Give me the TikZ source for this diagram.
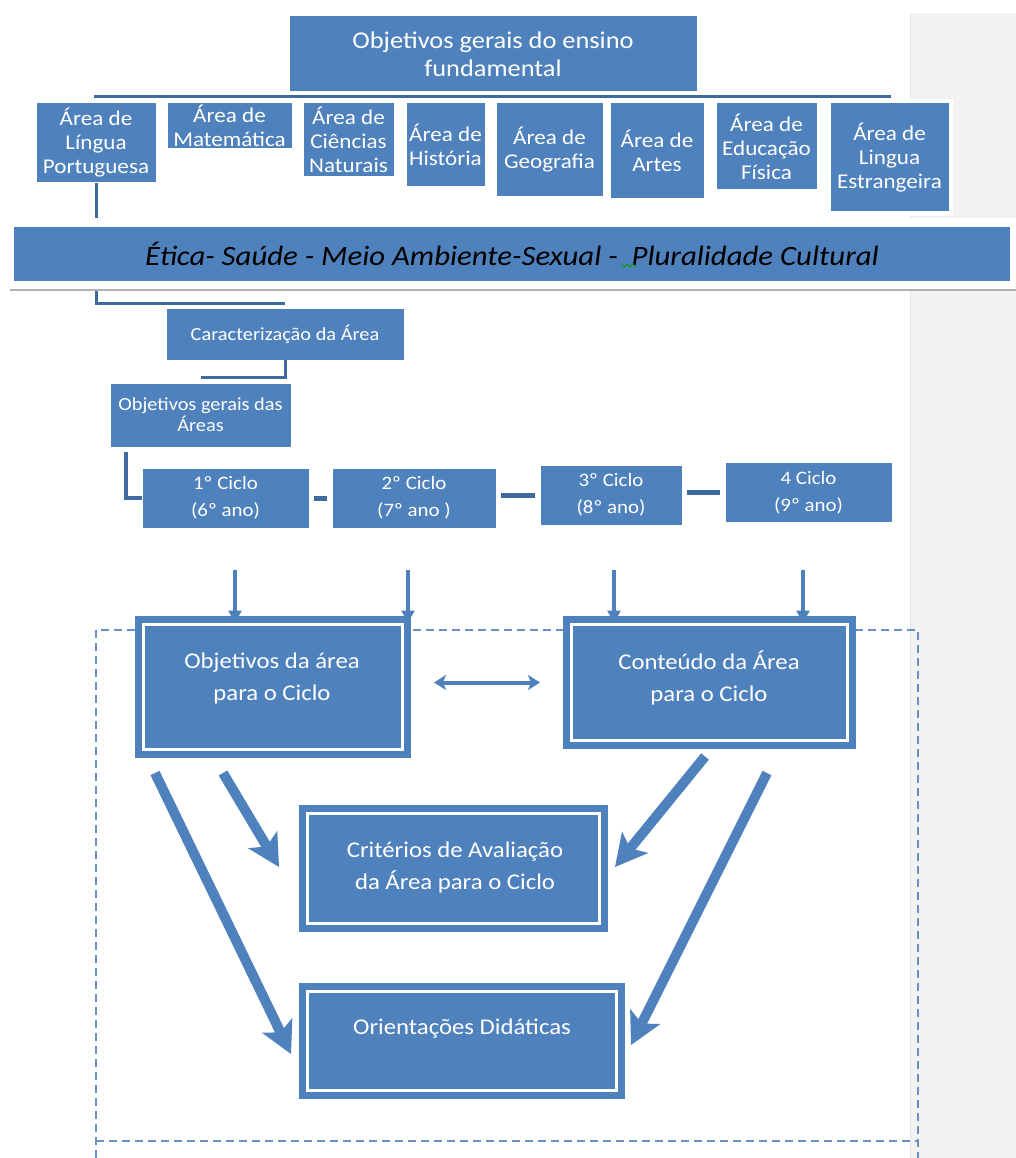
\documentclass[tikz,border=0pt]{standalone}
\usepackage{fontspec}
\setmainfont{Carlito}[FakeStretch=1.1]
\usetikzlibrary{arrows.meta,positioning,calc,backgrounds}
\definecolor{cBlue}{HTML}{4F81BD}
\definecolor{cLine}{HTML}{3F6AA0}
\definecolor{cDash}{HTML}{6A90C8}
\definecolor{cPage}{HTML}{F2F2F2}
\newcommand{\fs}[2]{\fontsize{#1}{#2}\selectfont}
\tikzset{
  area/.style={draw=white, line width=1pt, fill=cBlue, text=white, align=center,
               inner sep=0pt, outer sep=0pt, font=\fs{21}{24}},
  topbox/.style={area, font=\fs{24}{28}},
  smallbox/.style={area, font=\fs{18.5}{21}},
  ciclo/.style={area, font=\fs{19}{27}},
  conn/.style={draw=cLine, line width=3pt},
  link/.style={draw=cLine, line width=5pt, shorten <=5pt, shorten >=5pt},
}

\begin{document}
\begin{tikzpicture}[x=1pt, y=-1pt,
    bigbox/.style={fill=cBlue, draw=cBlue, double=white, double distance=3pt,
                   line width=7pt, inner sep=0pt, outer sep=0pt},
    bigtxt/.style={text=white, align=center, font=\fs{22.5}{32}},
    banner/.style={fill=cBlue, minimum width=996pt, minimum height=54pt,
                   inner sep=0pt, font=\fs{28}{30}\itshape},
    frame/.style={draw=cDash, line width=2pt, dash pattern=on 8pt off 5pt},
    varr/.style={draw=cBlue, line width=4pt, -{Triangle[length=12pt, width=13pt]}},
    darr/.style={draw=cBlue, line width=4pt, shorten <=31.5pt, shorten >=31.5pt,
                 {Stealth[length=12pt, width=15pt, inset=3pt]}-{Stealth[length=12pt, width=15pt, inset=3pt]}},
    barr/.style={draw=cBlue, line width=10pt,
                 -{Stealth[length=32pt, width=34pt, inset=8pt, line width=0pt]}}
  ]
  \useasboundingbox (0,0) rectangle (1016,1158);
  % page margin
  \fill[cPage] (910,13) rectangle (1016,1158);
  \draw[gray!20, line width=1pt] (910,13) -- (910,1158);

  % top of the hierarchy
  \node[topbox, minimum width=408pt, minimum height=76pt] (obj) at (493,54)
    {Objetivos gerais do ensino\\fundamental};
  \coordinate (barL) at (94,97);
  \coordinate (barR) at (891,97);
  \draw[conn] (barL) -- (barR);

  % areas
  \fill[white] (826,99) rectangle (953,216);
  \foreach \n/\x/\y/\w/\h/\t in {
      a1/96/143/120/80/{Área de\\Língua\\Portuguesa},
      a2/229.5/126/125/46/{Área de\\Matemática},
      a3/348.5/140/91/74/{Área de\\Ciências\\Naturais},
      a4/445.5/145/79/84/{Área de\\História},
      a5/549.5/150/107/94/{Área de\\Geografia},
      a6/657/151/94/96/{Área de\\Artes},
      a7/766.5/146.5/101/87/{Área de\\Educação\\Física},
      a8/889.5/157.5/119/109/{Área de\\Lingua\\Estrangeira}}
    \node[area, minimum width=\w pt, minimum height=\h pt] (\n) at (\x,\y) {\t};

  % area chain
  \node[smallbox, minimum width=238pt, minimum height=52pt] (car) at (285,334)
    {Caracterização da Área};
  \node[smallbox, minimum width=181pt, minimum height=64pt] (og) at (200.5,415)
    {Objetivos gerais das\\Áreas};
  \begin{scope}[on background layer]
    \draw[conn] (a1.south) |- ([yshift=5pt]car.north);
  \end{scope}
  \draw[conn] (car.south) |- ([yshift=6pt]og.north);

  % transversal themes
  \fill[white] (10,218) rectangle (1016,289);
  \draw[gray!60, line width=2pt] (10,290) -- (1016,290);
  \node[banner] (etica) at (512,254)
    {Ética- Saúde - Meio Ambiente-Sexual - \ Pluralidade Cultural};
  \draw[green!60!black, line width=0.8pt] (621,264) -- (624,267) -- (627,264)
    -- (630,267) -- (633,264) -- (636,267);

  % ciclos
  \foreach \n/\x/\y/\w/\t in {
      c1/225.5/498/167/{1º Ciclo\\(6º ano)},
      c2/414/498/164/{2º Ciclo\\(7º ano )},
      c3/611/495/142/{3º Ciclo\\(8º ano)},
      c4/808.5/492.5/167/{4 Ciclo\\(9º ano)}}
    \node[ciclo, minimum width=\w pt, minimum height=60pt] (\n) at (\x,\y) {\t};
  \draw[conn, line width=4pt] (og.south west) ++(16,5) |- (c1.west);
  \draw[link] (c1) -- (c2);
  \draw[link] (c2.east |- c3.west) -- (c3.west);
  \draw[link] (c3.east |- c4.west) -- (c4.west);

  % dashed frame
  \draw[frame] (96,1158) |- (918,630) -- (918,1158);
  \draw[frame] (96,1141) -- (918,1141);

  % boxes for the ciclo
  \node[bigbox, minimum width=259pt, minimum height=125pt] (ob) at (273,687) {};
  \node[bigbox, minimum width=276pt, minimum height=116pt] (ct) at (709.5,682.5) {};
  \node[bigbox, minimum width=292pt, minimum height=110pt] (cr) at (453.5,868.5) {};
  \node[bigbox, minimum width=309pt, minimum height=99pt] (or) at (462,1041) {};
  \node[bigtxt] (obT) at (272,678) {Objetivos da área\\para o Ciclo};
  \node[bigtxt] (ctT) at (709,678) {Conteúdo da Área\\para o Ciclo};
  \node[bigtxt] (crT) at (455,867) {Critérios de Avaliação\\da Área para o Ciclo};
  \node[bigtxt] (orT) at (462,1029) {Orientações Didáticas};

  % arrows
  \foreach \c/\dx/\dy/\t in {c1/9.5/42/ob, c2/-6/42/ob, c3/3/45/ct, c4/-5.5/47/ct}
    \draw[varr] ($(\c.south)+(\dx,\dy)$) -- ($(\c.south |- \t.north)+(\dx,-2)$);
  \draw[darr] (ob.east |- ct.west) -- (ct.west);
  \draw[barr] ($(ob.south west)+(11.5,23.5)$) -- ($(or.west)+(-16.5,13)$);
  \draw[barr] ($(ob.south)+(-50,23.5)$) -- ($(cr.west)+(-28.5,-1.5)$);
  \draw[barr] ($(ct.south)+(-4.5,16)$) -- ($(cr.east)+(15.5,-1.5)$);
  \draw[barr] ($(ct.south east)+(-80.5,32.5)$) -- ($(or.east)+(14.5,4)$);
\end{tikzpicture}
\end{document}
